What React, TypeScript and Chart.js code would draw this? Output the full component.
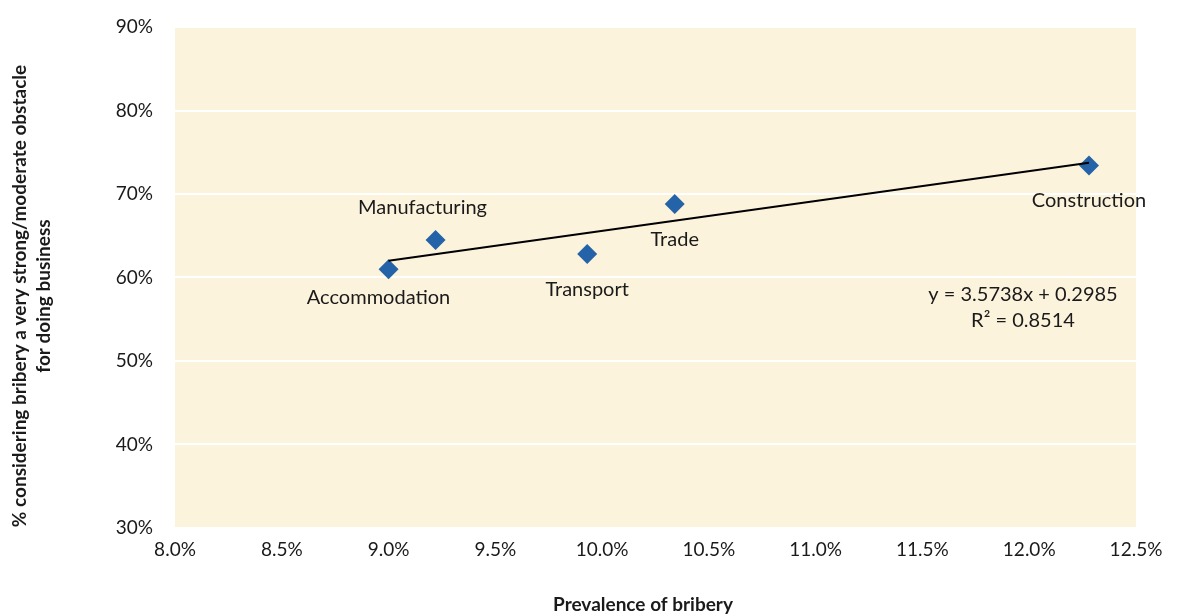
import React, { useEffect, useRef } from "react";
import { Chart, registerables } from "chart.js";

Chart.register(...registerables);

const sectors = ["Accommodation", "Manufacturing", "Transport", "Trade", "Construction"];
const bribery = [0.09, 0.0922, 0.0993, 0.1034, 0.1228];
const obstacle = [0.61, 0.645, 0.628, 0.688, 0.734];
const trendSlope = 3.5738;
const trendIntercept = 0.2985;
const equationLines = ["y = 3.5738x + 0.2985", "R² = 0.8514"];
const xTitle = "Prevalence of bribery";
const yTitle = ["% considering bribery a very strong/moderate obstacle", "for doing business"];

// label placement: [dx, dy] from point in pixels
const labelOffsets: [number, number][] = [
  [-10, 28],
  [-13, -32],
  [0, 35],
  [0, 36],
  [0, 35],
];

const FONT = "Lato, 'Open Sans', sans-serif";
const TEXT = "#1a1a1a";

export default function App() {
  const ref = useRef<HTMLCanvasElement>(null);
  useEffect(() => {
    document.body.style.margin = "0";
    const canvas = ref.current!;
    const xMin = Math.min(...bribery);
    const xMax = Math.max(...bribery);
    const trend = [
      { x: xMin, y: trendSlope * xMin + trendIntercept },
      { x: xMax, y: trendSlope * xMax + trendIntercept },
    ];
    const bgPlugin = {
      id: "bg",
      beforeDraw(chart: any) {
        const { ctx, chartArea: a } = chart;
        ctx.save();
        ctx.fillStyle = "#FCF3DD";
        ctx.fillRect(a.left, a.top, a.right - a.left, a.bottom - a.top);
        ctx.restore();
      },
      afterDraw(chart: any) {
        const { ctx } = chart;
        const meta = chart.getDatasetMeta(1);
        ctx.save();
        ctx.fillStyle = TEXT;
        ctx.font = `20px ${FONT}`;
        ctx.textAlign = "center";
        ctx.textBaseline = "middle";
        meta.data.forEach((p: any, i: number) => {
          const [dx, dy] = labelOffsets[i];
          ctx.fillText(sectors[i], p.x + dx, p.y + dy);
        });
        ctx.fillText(equationLines[0], 1023, 295);
        ctx.fillText(equationLines[1], 1023, 321);
        ctx.font = `bold 19px ${FONT}`;
        ctx.fillText(xTitle, 643, 605);
        ctx.translate(20, 296);
        ctx.rotate(-Math.PI / 2);
        ctx.fillText(yTitle[0], 0, 0);
        ctx.fillText(yTitle[1], 0, 24);
        ctx.restore();
      },
    };
    const chart = new Chart(canvas, {
      type: "scatter",
      data: {
        datasets: [
          {
            type: "line",
            data: trend,
            borderColor: "#000000",
            borderWidth: 2,
            pointRadius: 0,
            fill: false,
          } as any,
          {
            data: bribery.map((x, i) => ({ x, y: obstacle[i] })),
            pointStyle: "rectRot",
            pointRadius: 10,
            backgroundColor: "#2563A8",
            borderColor: "#2563A8",
            borderWidth: 0,
          },
        ],
      },
      options: {
        animation: false,
        responsive: false,
        layout: { padding: { top: 27, right: 47, left: 0, bottom: 0 } },
        plugins: { legend: { display: false }, tooltip: { enabled: false } },
        scales: {
          x: {
            type: "linear",
            min: 0.08,
            max: 0.125,
            afterFit(s: any) {
              s.height = 88;
              s.paddingLeft = 0;
              s.paddingRight = 0;
            },
            afterBuildTicks(s: any) {
              const t = [];
              for (let v = 0.08; v <= 0.12501; v += 0.005) t.push({ value: Math.round(v * 1000) / 1000 });
              s.ticks = t;
            },
            grid: { display: false, drawTicks: false },
            border: { display: false },
            ticks: {
              padding: 10,
              color: TEXT,
              font: { family: FONT, size: 19 },
              callback: (v: any) => (v * 100).toFixed(1) + "%",
            },
          },
          y: {
            min: 0.3,
            max: 0.9,
            afterFit(s: any) {
              s.width = 175;
              s.paddingTop = 0;
              s.paddingBottom = 0;
            },
            grid: { color: "#FFFFFF", lineWidth: 2, drawTicks: false },
            border: { display: false },
            ticks: {
              stepSize: 0.1,
              padding: 22,
              color: TEXT,
              font: { family: FONT, size: 19 },
              callback: (v: any) => Math.round(v * 100) + "%",
            },
          },
        },
      },
      plugins: [bgPlugin],
    });
    return () => chart.destroy();
  }, []);
  return <canvas ref={ref} width={1183} height={616} style={{ display: "block" }} />;
}
